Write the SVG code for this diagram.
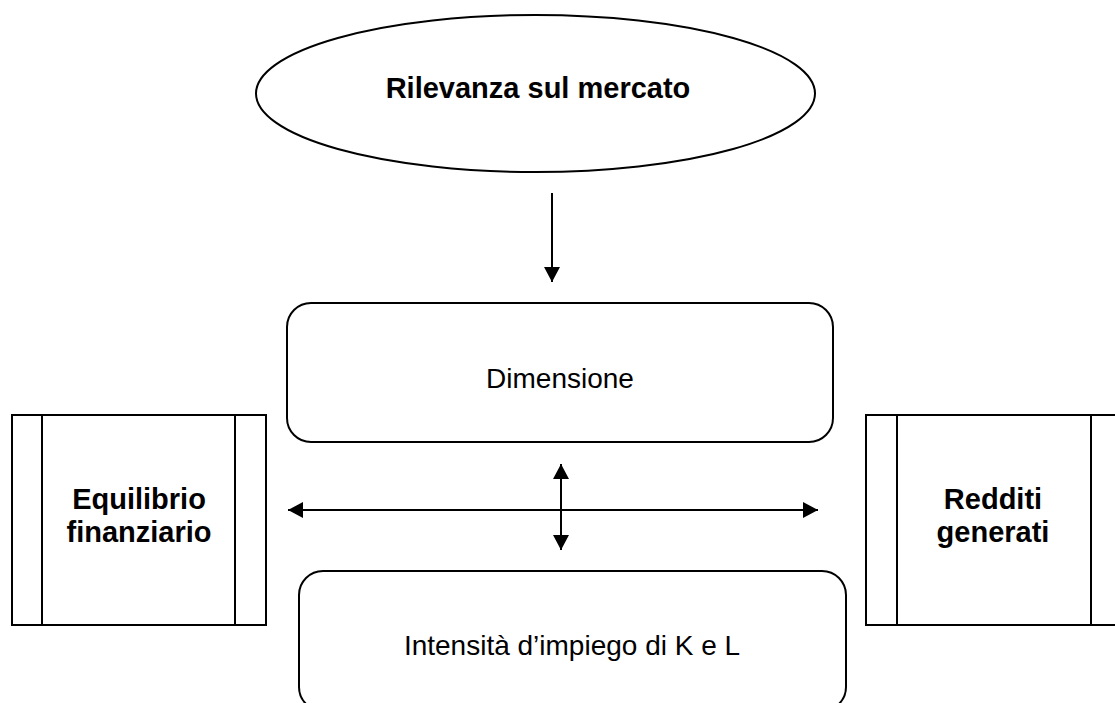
<svg xmlns="http://www.w3.org/2000/svg" width="1115" height="703" viewBox="0 0 1115 703">
  <style>
    .shape { fill: #ffffff; stroke: #000000; stroke-width: 2; }
    .line { fill: none; stroke: #000000; stroke-width: 2; }
    .bold { font-family: "Liberation Sans", Arial, sans-serif; font-weight: bold; font-size: 29px; fill: #000000; text-anchor: middle; }
    .plain { font-family: "Liberation Sans", Arial, sans-serif; font-size: 28px; fill: #000000; text-anchor: middle; }
  </style>
  <defs>
    <marker id="arrow" viewBox="0 0 15 16" refX="15" refY="8" markerWidth="15" markerHeight="16" markerUnits="userSpaceOnUse" orient="auto-start-reverse">
      <path d="M0,0 L15,8 L0,16 Z" fill="#000000"/>
    </marker>
  </defs>

  <rect width="1115" height="703" fill="#ffffff"/>

  <!-- Market relevance (ellipse) -->
  <g id="rilevanza">
    <ellipse class="shape" cx="535.5" cy="93.5" rx="279.5" ry="78.5"/>
    <text class="bold" x="538" y="98">Rilevanza sul mercato</text>
  </g>

  <!-- Size -->
  <g id="dimensione">
    <rect class="shape" x="287" y="303" width="546" height="139" rx="24" ry="24"/>
    <text class="plain" x="560" y="388">Dimensione</text>
  </g>

  <!-- Capital / labour intensity -->
  <g id="intensita">
    <rect class="shape" x="299" y="571" width="547" height="140" rx="24" ry="24"/>
    <text class="plain" x="572" y="655">Intensità d’impiego di K e L</text>
  </g>

  <!-- Financial balance (predefined process) -->
  <g id="equilibrio">
    <rect class="shape" x="12" y="415" width="254" height="210"/>
    <line class="line" x1="42" y1="415" x2="42" y2="625"/>
    <line class="line" x1="235" y1="415" x2="235" y2="625"/>
    <text class="bold" x="139" y="509">Equilibrio</text>
    <text class="bold" x="139" y="542">finanziario</text>
  </g>

  <!-- Generated income (predefined process) -->
  <g id="redditi">
    <rect class="shape" x="866" y="415" width="256" height="210"/>
    <line class="line" x1="897" y1="415" x2="897" y2="625"/>
    <line class="line" x1="1091" y1="415" x2="1091" y2="625"/>
    <text class="bold" x="993" y="509">Redditi</text>
    <text class="bold" x="993" y="542">generati</text>
  </g>

  <!-- Connectors -->
  <g id="connectors">
    <line class="line" x1="552" y1="193" x2="552" y2="282" marker-end="url(#arrow)"/>
    <line class="line" x1="288" y1="510" x2="818" y2="510" marker-start="url(#arrow)" marker-end="url(#arrow)"/>
    <line class="line" x1="561" y1="464" x2="561" y2="550" marker-start="url(#arrow)" marker-end="url(#arrow)"/>
  </g>
</svg>
